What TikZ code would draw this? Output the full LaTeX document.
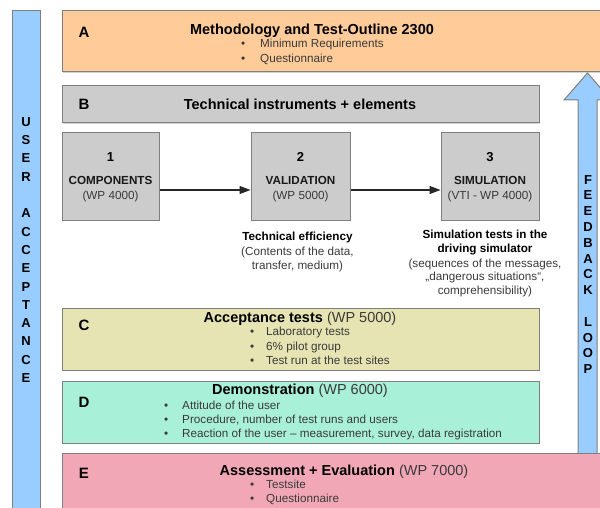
\documentclass[tikz,border=0pt]{standalone}
\usepackage{fontspec}
\setmainfont{Liberation Sans}
\usepackage{tikz}
\usetikzlibrary{positioning, calc, arrows.meta, shadows}

\definecolor{peach}{HTML}{FFCC99}
\definecolor{boxgray}{HTML}{CCCCCC}
\definecolor{khaki}{HTML}{E6E4B3}
\definecolor{mint}{HTML}{A9F0D9}
\definecolor{rose}{HTML}{F2A7B7}
\definecolor{skyblue}{HTML}{99CCFF}
\definecolor{edge}{HTML}{7F7F7F}
\definecolor{txt}{HTML}{3A3A3A}

\tikzset{
    panel/.style={rectangle, draw=edge, line width=1pt, inner sep=0pt,
        drop shadow={shadow xshift=1.2pt, shadow yshift=-1.2pt, opacity=0.35}},
    letter/.style={inner sep=0pt, font=\fontsize{15}{18}\selectfont\bfseries},
    headline/.style={inner sep=0pt, anchor=base, font=\fontsize{14.5}{17}\selectfont},
    body/.style={inner sep=0pt, anchor=mid, text=txt, font=\fontsize{11.7}{14}\selectfont},
    bul/.style={body, anchor=mid west},
    flow/.style={draw=black!85, line width=1.1pt, -{Triangle[length=11pt,width=8pt]}}
}

\begin{document}
\begin{tikzpicture}[x=1pt, y=-1pt]
                    \useasboundingbox (0,0) rectangle (600,508);
                    \clip (0,0) rectangle (600,508);
                    % side bars
                    \node[panel, fill=skyblue, minimum width=28pt, minimum height=504pt] (ua) at (26,263) {};
                    \node[align=center, font=\fontsize{13}{18.3}\selectfont\bfseries] (uatext) at (26,250)
                        {U\\S\\E\\R\\[18.3pt]A\\C\\C\\E\\P\\T\\A\\N\\C\\E};
                    \draw[draw=edge, line width=1pt, fill=skyblue] (578,460) -- (578,100) -- (564,100) -- (587.5,73)
                        -- (611,100) -- (597,100) -- (597,460) -- cycle;
                    \node[align=center, font=\fontsize{13}{15.8}\selectfont\bfseries] (fbtext) at (588,274.5)
                        {F\\E\\E\\D\\B\\A\\C\\K\\[15.8pt]L\\O\\O\\P};
                    % A
                    \node[panel, fill=peach, minimum width=539pt, minimum height=61pt] (A) at (331.5,41.5) {};
                    \node[letter] (lA) at (84,32) {A};
                    \node[headline] (tA) at (312,35) {\textbf{Methodology and Test-Outline 2300}};
                    \foreach \y/\t [count=\i] in {45/Minimum Requirements, 60/Questionnaire}
                        \node[bul] (bA\i) at (241,\y) {\makebox[19pt][l]{\textbullet}\t};
                    % B
                    \node[panel, fill=boxgray, minimum width=477pt, minimum height=37pt] (B) at (300.5,104.5) {};
                    \node[letter] (lB) at (84,104) {B};
                    \node[headline] (tB) at (300,109.5) {\textbf{Technical instruments + elements}};
                    % 1 -> 2 -> 3
                    \node[panel, fill=boxgray, minimum width=97pt, minimum height=87pt] (c1) at (110.5,176.5) {};
                    \node[panel, fill=boxgray, minimum width=99pt, minimum height=87pt] (c2) at (300.5,176.5) {};
                    \node[panel, fill=boxgray, minimum width=98pt, minimum height=87pt] (c3) at (490,176.5) {};
                    \foreach \n/\x/\k/\s/\w in {1/110.5/COMPONENTS/c1/(WP 4000), 2/300.5/VALIDATION/c2/(WP 5000), 3/490/SIMULATION/c3/(VTI - WP 4000)}{
                        \node[letter, font=\fontsize{13}{15}\selectfont\bfseries] (n\s) at (\x,157) {\n};
                        \node[body, text=black!90, font=\fontsize{11.7}{14}\selectfont\bfseries] (k\s) at (\x,182) {\k};
                        \node[body] (w\s) at (\x,197) {\w};
                    }
                    \draw[flow] ([yshift=-13.5pt]c1.east) -- ([yshift=-13.5pt]c2.west);
                    \draw[flow] ([yshift=-13.5pt]c2.east) -- ([yshift=-13.5pt]c3.west);
                    \foreach \y/\t [count=\i] in {238/{\textbf{\color{black}Technical efficiency}}, 253/{(Contents of the data,}, 267/{transfer, medium)}}
                        \node[body] (te\i) at (297.5,\y) {\t};
                    \foreach \y/\t [count=\i] in {236/{\textbf{\color{black}Simulation tests in the}}, 250/{\textbf{\color{black}driving simulator}},
                        265/{(sequences of the messages,}, 278/{„dangerous situations“,}, 292/{comprehensibility)}}
                        \node[body] (st\i) at (485,\y) {\t};
                    % C
                    \node[panel, fill=khaki, minimum width=477pt, minimum height=62pt] (C) at (300.5,339) {};
                    \node[letter] (lC) at (84,325) {C};
                    \node[headline] (tC) at (300,322.5) {\textbf{Acceptance tests} {\color{txt}(WP 5000)}};
                    \foreach \y/\t [count=\i] in {333/Laboratory tests, 348/6\% pilot group, 362/Test run at the test sites}
                        \node[bul] (bC\i) at (250,\y) {\makebox[16pt][l]{\textbullet}\t};
                    % D
                    \node[panel, fill=mint, minimum width=477pt, minimum height=62pt] (D) at (300.5,412) {};
                    \node[letter] (lD) at (84,402) {D};
                    \node[headline] (tD) at (300,394.5) {\textbf{Demonstration} {\color{txt}(WP 6000)}};
                    \foreach \y/\t [count=\i] in {407/Attitude of the user, 421/{Procedure, number of test runs and users},
                        435/{Reaction of the user – measurement, survey, data registration}}
                        \node[bul] (bD\i) at (164,\y) {\makebox[18pt][l]{\textbullet}\t};
                    % E
                    \node[panel, fill=rose, minimum width=539pt, minimum height=62pt] (E) at (331.5,484) {};
                    \node[letter] (lE) at (84,473) {E};
                    \node[headline] (tE) at (344,475.5) {\textbf{Assessment + Evaluation} {\color{txt}(WP 7000)}};
                    \foreach \y/\t [count=\i] in {486/Testsite, 500/Questionnaire}
                        \node[bul] (bE\i) at (250,\y) {\makebox[16pt][l]{\textbullet}\t};
                \end{tikzpicture}
\end{document}
